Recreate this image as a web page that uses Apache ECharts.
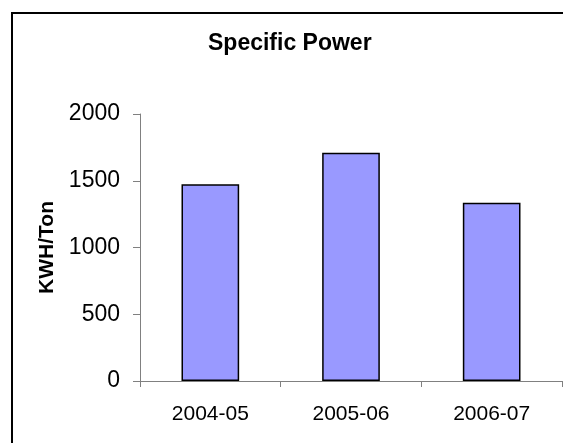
<!DOCTYPE html>
<html>
<head>
<meta charset="utf-8">
<script src="https://cdn.jsdelivr.net/npm/echarts@6/dist/echarts.min.js"></script>
<style>
  html, body { margin: 0; padding: 0; background: #fff; }
  #main { width: 563px; height: 443px; }
</style>
</head>
<body>
<div id="main"></div>
<script>
// data
var years = ['2004-05', '2005-06', '2006-07'];
var kwhPerTon = [1473, 1710, 1335];
var yTicks = [0, 500, 1000, 1500, 2000];

var chart = echarts.init(document.getElementById('main'));
var font = 'Arial, "Liberation Sans", sans-serif';

var option = {
  backgroundColor: '#fff',
  animation: false,
  // outer frame of the chart area
  graphic: [{
    type: 'rect',
    shape: { x: 12, y: 13, width: 700, height: 600 },
    style: { fill: 'none', stroke: '#000', lineWidth: 2 }
  }],
  title: {
    text: 'Specific Power',
    left: 208,
    top: 32,
    padding: 0,
    textStyle: { fontFamily: font, fontSize: 23, fontWeight: 'bold', color: '#000' }
  },
  grid: { left: 140, right: 1, top: 114, bottom: 62, containLabel: false },
  xAxis: {
    type: 'category',
    data: years,
    axisLine: { lineStyle: { color: '#808080', width: 1 } },
    axisTick: { show: true, length: 6, lineStyle: { color: '#808080' } },
    axisLabel: { fontFamily: font, fontSize: 21, color: '#000', margin: 23 }
  },
  yAxis: {
    type: 'value',
    min: yTicks[0],
    max: yTicks[yTicks.length - 1],
    interval: 500,
    name: 'KWH/Ton',
    nameLocation: 'middle',
    nameGap: 81,
    nameTextStyle: { fontFamily: font, fontSize: 21, fontWeight: 'bold', color: '#000' },
    axisLine: { show: true, lineStyle: { color: '#808080', width: 1 } },
    axisTick: { show: true, length: 7, lineStyle: { color: '#808080' } },
    axisLabel: {
      fontFamily: font, fontSize: 23, color: '#000', margin: 20,
      formatter: function (v) { return String(v); }
    },
    splitLine: { show: false }
  },
  series: [{
    type: 'bar',
    data: kwhPerTon,
    barWidth: '41%',
    itemStyle: { color: '#9999ff', borderColor: '#000', borderWidth: 1.5 }
  }]
};

chart.setOption(option);
</script>
</body>
</html>
